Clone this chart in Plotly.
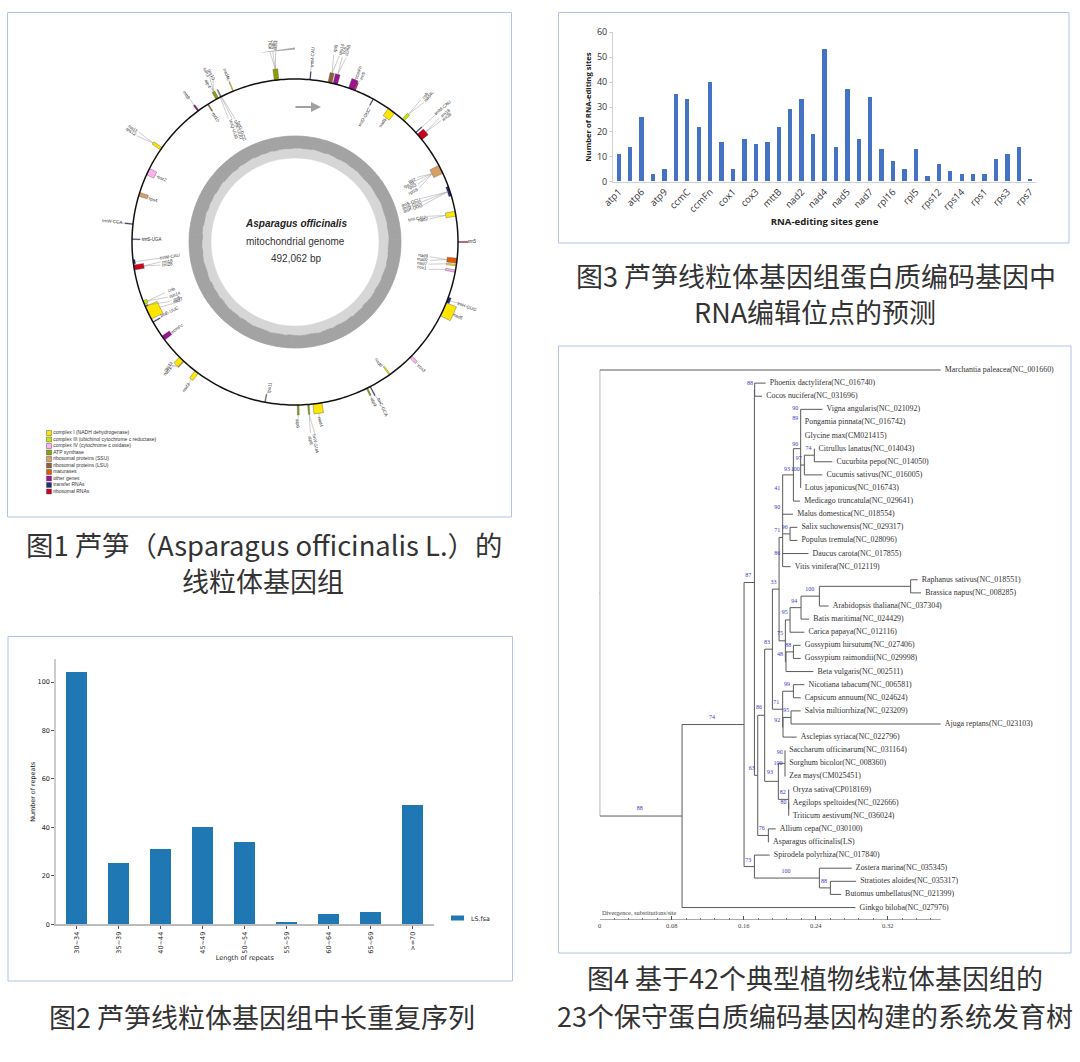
import math
import plotly.graph_objects as go

W, H = 1080, 1062

# ---------- Panel: RNA editing ----------
RNA_GENES = ["atp1","atp4","atp6","atp8","atp9","ccmB","ccmC","ccmFc","ccmFn","cob","cox1","cox2","cox3",
             "matR","mttB","nad1","nad2","nad3","nad4","nad4L","nad5","nad6","nad7","nad9","rpl16","rpl2",
             "rpl5","rpl10","rps12","rps13","rps14","rps19","rps1","rps2","rps3","rps4","rps7"]
RNA_SITES = [11,14,26,3,5,35,33,22,40,16,5,17,15,16,22,29,33,19,53,14,37,17,34,13,8,5,13,2,7,4,3,3,3,9,11,14,1]

# ---------- Panel: repeats ----------
REPEAT_BINS = ["30~34","35~39","40~44","45~49","50~54","55~59","60~64","65~69",">=70"]
REPEAT_COUNTS = [104,25,31,40,34,1,4,5,49]

# ---------- Panel: phylogeny ----------
LEAF_NAMES = ["Marchantia paleacea(NC_001660)","Phoenix dactylifera(NC_016740)","Cocos nucifera(NC_031696)",
 "Vigna angularis(NC_021092)","Pongamia pinnata(NC_016742)","Glycine max(CM021415)","Citrullus lanatus(NC_014043)",
 "Cucurbita pepo(NC_014050)","Cucumis sativus(NC_016005)","Lotus japonicus(NC_016743)","Medicago truncatula(NC_029641)",
 "Malus domestica(NC_018554)","Salix suchowensis(NC_029317)","Populus tremula(NC_028096)","Daucus carota(NC_017855)",
 "Vitis vinifera(NC_012119)","Raphanus sativus(NC_018551)","Brassica napus(NC_008285)","Arabidopsis thaliana(NC_037304)",
 "Batis maritima(NC_024429)","Carica papaya(NC_012116)","Gossypium hirsutum(NC_027406)","Gossypium raimondii(NC_029998)",
 "Beta vulgaris(NC_002511)","Nicotiana tabacum(NC_006581)","Capsicum annuum(NC_024624)","Salvia miltiorrhiza(NC_023209)",
 "Ajuga reptans(NC_023103)","Asclepias syriaca(NC_022796)","Saccharum officinarum(NC_031164)","Sorghum bicolor(NC_008360)",
 "Zea mays(CM025451)","Oryza sativa(CP018169)","Aegilops speltoides(NC_022666)","Triticum aestivum(NC_036024)",
 "Allium cepa(NC_030100)","Asparagus officinalis(LS)","Spirodela polyrhiza(NC_017840)","Zostera marina(NC_035345)",
 "Stratiotes aloides(NC_035317)","Butomus umbellatus(NC_021399)","Ginkgo biloba(NC_027976)"]
LEAF_TIPS = [.3789,.1844,.1804,.2474,.2233,.2233,.2385,.2585,.2474,.2233,.2226,.2148,.2196,.2196,.2319,.2122,.3533,.3570,
             .2544,.2326,.2274,.2233,.2233,.2374,.2274,.2233,.2233,.3789,.2189,.2059,.2059,.2059,.2100,.2100,.2100,.1956,
             .1881,.1889,.2800,.2848,.2681,.2841]
# nested (divergence, children[, row]); an integer child is a leaf index
LEGUMES = (.2233,[3,4,5,(.2274,[(.2385,[6,7]),8]),9])
ROSID_A = (.2033,[(.2152,[LEGUMES,10]),11,(.2115,[12,13]),14,15],12.77)
ROSID_B = (.2063,[(.2115,[(.2237,[(.2441,[(.3455,[16,17]),18]),19]),20]),(.2070,[(.2152,[21,22]),23])])
ASTERID = (.2033,[(.2152,[24,25]),(.2037,[(.2126,[26,27]),28])])
GRASSES = (.1985,[(.2059,[29,30,31]),(.2100,[32,(.2100,[33,34])])])
CORE = (.1756,[(.1833,[(.1919,[(.1993,[ROSID_A,ROSID_B]),ASTERID]),GRASSES]),(.1874,[35,36])])
ALISMATALES = (.1719,[37,(.2441,[38,(.2563,[39,40])])])
TREE = (0,[0,(.0915,[(.1604,[(.1719,[(.1722,[1,2]),CORE]),ALISMATALES]),41])])
ROOT_STEM = -.0219
SCALE_SPAN = [0, .3789]
SUPPORT_TEXT = ["88","90","89","90","74","97","93","100","41","90","71","96","86","87","33","100","94","95","75","83","88","48",
                "99","86","71","95","92","74","88","90","100","63","93","82","80","76","73","100","88"]
SUPPORT_DIV = [.1670,.2174,.2174,.2174,.2319,.2211,.2081,.2174,.1974,.1974,.1974,.2056,.1974,.1652,.1930,.2333,.2163,.2056,.2004,
               .1859,.2096,.2004,.2081,.1770,.1963,.2074,.1974,.1248,.0444,.2000,.1981,.1689,.1893,.2033,.2041,.1800,.1652,.2070,.2493]
SUPPORT_ROW = [1.02,2.95,3.72,5.67,6.0,6.74,7.58,7.61,9.03,10.48,12.21,11.98,14.0,15.67,16.18,16.74,17.63,18.52,20.1,
               20.76,20.99,21.73,23.99,25.73,25.37,25.98,26.72,26.51,33.46,29.21,30.03,30.38,30.71,32.24,32.98,34.99,37.38,38.22,38.98]

# ---------- Panel: genome map ----------
GENE_THETA = [353.5,5.3,12.4,14.3,20.3,21.6,28.7,36.3,41.6,47.8,49.9,63.5,71.8,80,90,96.6,98.2,100.3,110.8,114.4,134.8,144.5,
              153.8,152.5,172.1,175.3,178.9,190.6,217.1,224.1,223,233.9,240.6,244.2,246.8,248.2,263,261,271,276.3,287,295.6,
              304.9,323.6,327.7,331.5,333,337.7]
GENE_SPAN = [1.6,.3,1.4,1.6,2.2,.3,.3,2.8,1,.3,2.5,3.2,3.5,1.8,.3,1.8,.5,.8,2,5,1,.5,.5,.3,3.2,.5,.6,.3,1.4,2,.3,1.7,.3,5,.5,1.4,
             1.5,1.8,.3,.3,1.4,2.5,1,.6,.4,1,.3,.3]
GENE_DEPTH = [11,8,10,10,10,8,7,9,8,8,8,10,2.5,10,10,10,10,10,3,11,8,10,8,10,10,10,10,8,9,8,8,9,8,13,3,4,2,10,8,8,9,8,10,7,8,8,8,10]
GENE_OUTER = [1,1,1,1,1,1,0,0,1,1,1,0,0,0,1,0,0,0,1,1,1,0,1,1,1,1,1,0,1,1,1,0,0,0,0,0,0,0,0,1,0,0,1,1,0,1,1,1]
GENE_CLASS = [3,8,5,7,7,9,8,0,1,8,9,4,8,0,9,6,0,2,8,0,2,0,3,8,0,3,3,5,0,0,4,7,8,0,5,1,8,9,8,8,4,2,0,7,5,3,8,0]
CLASS_NAMES = ["complex I (NADH dehydrogenase)","complex III (ubichinol cytochrome c reductase)","complex IV (cytochrome c oxidase)",
               "ATP synthase","ribosomal proteins (SSU)","ribosomal proteins (LSU)","maturases","other genes","transfer RNAs","ribosomal RNAs"]
CLASS_COLORS = ["#FFE600","#C4E800","#FFB0F0","#8CA000","#D9A066","#8C6239","#E05A00","#9A1490","#1F2A80","#D00020"]
# read around the inner ring every 3 degrees, share of the ring in dark grey (%)
AT_SHARE = [55,54,56,55,53,55,56,54,55,57,55,54,56,55,54,56,57,55,54,55,56,54,53,55,56,55,54,56,55,54,
            55,57,56,54,55,53,55,56,54,55,57,55,54,56,58,55,56,54,57,55,56,58,55,57,56,54,57,58,56,55,
            57,59,56,58,57,55,58,59,57,56,58,60,57,59,58,56,58,60,57,59,58,60,57,58,60,59,57,58,60,58,
            59,61,58,57,60,59,57,60,58,59,57,60,58,56,59,58,57,59,56,58,57,55,58,56,57,55,58,56,55,57]
GENOME_TITLE = "Asparagus officinalis"
GENOME_SUB = ["mitochondrial genome","492,062 bp"]

LABEL_TEXT = ["atp1","rps2","sdh4","trnM-CAU","rpl5","rps14","cob","ccmB","ccmFn","rrn5","trnD-GUC","nad1","cob","nad4L","trnM-CAU","rrn18","rrn26",
 "rpl2","rps19","rps3","rpl16","trnS-GCU","trnN-GUU","trnP-UGG","trnI-CAU","nad2","rrn5","nad9","matR","nad7","cox1",
 "trnW-CCA","trnS-UGA","trnM-CAU","rrn18","rrn26","rps4","cox2","nad3","rps12","mttB","rpl10","sdh3","rps10","atp4","nad4L",
 "trnQ-UUG","trnK-UUU","trnG-GCC","rps11","atp6","atp8","trnY-GUA","nad4","atp9","trnC-GCA","nad6","cox3","nad5","trnH-GUG",
 "cob","rps14","rpl5","nad7","trnE-UUC","ccmFc","rps13","nad1","nad3"]
LABEL_GENE = [0,0,0,1,2,2,3,3,4,5,6,7,8,8,9,10,10,11,11,11,11,12,12,12,13,13,14,15,15,16,17,39,38,36,37,37,40,41,42,42,43,44,45,45,45,47,
              46,46,46,27,26,25,25,24,22,23,21,20,19,18,35,35,34,33,32,31,30,29,28]
LABEL_X = [269,272,275,312,335,341,344,348,358,363,364,383,425,429,443,445,447,412,409,412,413,411,412,413,417,423,472,423,423,422,422,
           112,152,170,167,167,153,162,133,131,187,216,207,211,208,227,234,238,241,269,298,311,316,320,373,383,379,422,458,467,
           172,175,177,178,170,177,168,167,187]
LABEL_Y = [45,45,45,57,48,49,50,51,72,76,117,123,95,97,108,113,116,180,184,187,191,202,205,208,218,220,242,256,259.5,263,268,
           222,239,257,261,264,199,179,128,132,95,117,72,75,83,74,129,130,131,388,423,440,443,422,402,407,362,368,316,306,
           290,294,298,301,312,328,366,371,387]
LABEL_ROT = [-85,-85,-85,-87,-75,-75,-75,-75,-70,-70,-60,-55,-50,-50,-40,-40,-40,-25,-25,-25,-25,-20,-20,-20,-10,-10,0,8,8,9,10,
             5,0,-8,-8,-8,17,25,35,35,55,60,65,65,65,70,72,72,72,-82,85,80,80,75,65,65,55,45,25,20,
             -20,-20,-20,-20,-25,-35,-50,-50,-55]

CAPTIONS = ["图1 芦笋（Asparagus officinalis L.）的","线粒体基因组","图2 芦笋线粒体基因组中长重复序列",
            "图3 芦笋线粒体基因组蛋白质编码基因中","RNA编辑位点的预测",
            "图4 基于42个典型植物线粒体基因组的","23个保守蛋白质编码基因构建的系统发育树"]

# ---------- helpers ----------
def px(x): return x / W
def py(y): return 1 - y / H
def dom_x(a, b): return [a / W, b / W]
def dom_y(top, bottom): return [1 - bottom / H, 1 - top / H]

CX, CY, RING = 295, 242, 163
def to_polar(x, y):
    dx, dy = x - CX, y - CY
    return math.hypot(dx, dy), math.degrees(math.atan2(dx, -dy)) % 360

fig = go.Figure()

# genome map -------------------------------------------------
ring_edge = [106 - 22 * s / 100 for s in AT_SHARE]
ring_theta = [i * 3 for i in range(len(AT_SHARE))]
fig.add_trace(go.Barpolar(theta=[45, 135, 225, 315], r=[22] * 4, base=[84] * 4, width=[90] * 4,
                          marker=dict(color="#D6D6D6", line=dict(color="#D6D6D6", width=0.5)), showlegend=False, hoverinfo="skip"))
fig.add_trace(go.Barpolar(theta=ring_theta, r=[106 - e for e in ring_edge], base=ring_edge, width=[3] * len(ring_theta),
                          marker=dict(color="#A3A3A3", line=dict(color="#A3A3A3", width=0.6)), showlegend=False, hoverinfo="skip"))
lead_r, lead_t = [], []
for txt, gi, lx, ly in zip(LABEL_TEXT, LABEL_GENE, LABEL_X, LABEL_Y):
    r0 = RING + GENE_DEPTH[gi] if GENE_OUTER[gi] else RING - GENE_DEPTH[gi]
    rl, tl = to_polar(lx, ly)
    rr = r0 + (rl - r0) * 0.72
    lead_r += [r0, rr, None]
    lead_t += [GENE_THETA[gi], tl, None]
fig.add_trace(go.Scatterpolar(r=lead_r, theta=lead_t, mode="lines", line=dict(color="#9A9A9A", width=0.5),
                              showlegend=False, hoverinfo="skip"))
fig.add_trace(go.Barpolar(theta=GENE_THETA, width=GENE_SPAN, r=GENE_DEPTH,
                          base=[RING if o else RING - d for o, d in zip(GENE_OUTER, GENE_DEPTH)],
                          marker=dict(color=[CLASS_COLORS[c] for c in GENE_CLASS], line=dict(color="#555555", width=0.4)),
                          showlegend=False, hovertext=[CLASS_NAMES[c] for c in GENE_CLASS]))
fig.add_trace(go.Scatterpolar(r=[RING] * 361, theta=list(range(361)), mode="lines", line=dict(color="#111111", width=1.5),
                              showlegend=False, hoverinfo="skip"))

# class legend
fig.add_trace(go.Scatter(x=[0] * len(CLASS_NAMES), y=list(range(len(CLASS_NAMES))), mode="markers+text", xaxis="x4", yaxis="y4",
                         text=CLASS_NAMES, textposition="middle right", textfont=dict(family="Liberation Sans", size=5, color="#333333"),
                         marker=dict(symbol="square", size=5, color=CLASS_COLORS, line=dict(color="#555555", width=0.5)),
                         cliponaxis=False, showlegend=False, hoverinfo="skip"))

# RNA editing ------------------------------------------------
fig.add_trace(go.Bar(x=RNA_GENES, y=RNA_SITES, width=0.38, marker=dict(color="#4472C4", line=dict(width=0)), showlegend=False))

# repeats ----------------------------------------------------
fig.add_trace(go.Bar(x=REPEAT_BINS, y=REPEAT_COUNTS, xaxis="x2", yaxis="y2", width=0.5, name="LS.fsa",
                     marker=dict(color="#1F77B4", line=dict(width=0)), showlegend=False))

# phylogeny --------------------------------------------------
seg_x, seg_y = [], []
def walk(node, parent):
    if isinstance(node, int):
        y = node
        seg_x.extend([parent, LEAF_TIPS[node], None]); seg_y.extend([y, y, None])
        return y
    d, kids = node[0], node[1]
    ys = [walk(k, d) for k in kids]
    y = node[2] if len(node) > 2 else (ys[0] + ys[-1]) / 2
    seg_x.extend([d, d, None]); seg_y.extend([ys[0], ys[-1], None])
    seg_x.extend([parent, d, None]); seg_y.extend([y, y, None])
    return y
walk(TREE, ROOT_STEM)
fig.add_trace(go.Scatter(x=seg_x, y=seg_y, mode="lines", xaxis="x3", yaxis="y3", line=dict(color="#5A5A5A", width=1),
                         cliponaxis=False, showlegend=False, hoverinfo="skip"))
AXIS_ROW = 41.95
fig.add_trace(go.Scatter(x=SCALE_SPAN, y=[AXIS_ROW, AXIS_ROW], mode="lines", xaxis="x3", yaxis="y3", line=dict(color="#555555", width=1),
                         cliponaxis=False, showlegend=False, hoverinfo="skip"))
LEAF_GAP = 0.0046
fig.add_trace(go.Scatter(x=[t + LEAF_GAP for t in LEAF_TIPS], y=list(range(len(LEAF_TIPS))), mode="text", xaxis="x3", yaxis="y3", text=LEAF_NAMES,
                         textposition="middle right", textfont=dict(family="Liberation Serif", size=7.9, color="#333333"),
                         cliponaxis=False, showlegend=False, hoverinfo="skip"))
fig.add_trace(go.Scatter(x=SUPPORT_DIV, y=SUPPORT_ROW, mode="text", xaxis="x3", yaxis="y3", text=SUPPORT_TEXT,
                         textposition="middle center", textfont=dict(family="Liberation Serif", size=6, color="#3A3AC0"),
                         cliponaxis=False, showlegend=False, hoverinfo="skip"))

# layout -----------------------------------------------------
FRAME = "#AEC3E6"
frames = [(7.5, 12.5, 511.5, 517), (8, 636.5, 512.5, 981), (558.5, 12.5, 1069, 243), (558.5, 346, 1071, 953)]
shapes = [dict(type="rect", xref="paper", yref="paper", x0=px(a), x1=px(c), y0=py(d), y1=py(b),
               line=dict(color=FRAME, width=1), fillcolor="rgba(0,0,0,0)") for a, b, c, d in frames]
# grey flag above the first gene block
flag = [(260, 52.5), (295, 47.5), (295, 49.5), (263, 52.5)]
shapes.append(dict(type="path", xref="paper", yref="paper", fillcolor="#AAAAAA", line=dict(width=0),
                   path="M" + " L".join(f"{px(x):.5f},{py(y):.5f}" for x, y in flag) + " Z"))
# legend swatch of the repeats panel
shapes.append(dict(type="rect", xref="paper", yref="paper", x0=px(451), x1=px(464), y0=py(920.5), y1=py(915.5),
                   fillcolor="#1F77B4", line=dict(width=0)))

ann = []
def note(text, x, y, size, family="Liberation Sans", color="#333333", rot=0, anchor="center"):
    ann.append(dict(text=text, x=px(x), y=py(y), xref="paper", yref="paper", showarrow=False, textangle=rot,
                    font=dict(family=family, size=size, color=color), xanchor=anchor, yanchor="middle"))
for t, lx, ly, rot in zip(LABEL_TEXT, LABEL_X, LABEL_Y, LABEL_ROT):
    note(t, lx, ly, 4.5, rot=rot)
note(f"<b><i>{GENOME_TITLE}</i></b>", 295.5, 223.5, 10, color="#222222")
note(GENOME_SUB[0], 295.5, 241.5, 10)
note(GENOME_SUB[1], 295.5, 258, 10)
ann.append(dict(text="", x=px(321), y=py(107), xref="paper", yref="paper", showarrow=True, ax=-27, ay=0,
                arrowcolor="#A0A0A0", arrowwidth=2, arrowhead=2, arrowsize=1))
note("LS.fsa", 469, 918, 6.3, family="DejaVu Sans", color="#222222", anchor="left")
note("Divergence, substitutions/site", 599.7, 912, 6.3, family="Liberation Serif", color="#444444", anchor="left")
cap_pos = [(263.5, 543.5), (263, 580), (262, 1016.5), (816, 275.5), (815, 311.5), (815, 977.5), (815, 1015.5)]
cap_size = [27.4, 27, 27, 27, 27, 27, 27]
for t, (cx, cy), s in zip(CAPTIONS, cap_pos, cap_size):
    note(t, cx, cy, s, family="Noto Sans CJK SC", color="#333333")

fig.update_layout(
    width=W, height=H, margin=dict(l=0, r=0, t=0, b=0, autoexpand=False), paper_bgcolor="white", plot_bgcolor="rgba(0,0,0,0)",
    autosize=False, bargap=0, shapes=shapes, annotations=ann,
    polar=dict(domain=dict(x=dom_x(CX - 220, CX + 220), y=dom_y(CY - 220, CY + 220)), bgcolor="rgba(0,0,0,0)", barmode="overlay",
               radialaxis=dict(visible=False, range=[0, 220]),
               angularaxis=dict(visible=False, rotation=90, direction="clockwise")),
    xaxis=dict(domain=dom_x(613, 1036), range=[-0.5, 36.5], type="category", categoryorder="array", categoryarray=RNA_GENES,
               tickmode="array", tickvals=RNA_GENES[::2], tickangle=-45, ticks="", showgrid=False, zeroline=False,
               showline=True, linecolor="#D0D0D0", tickfont=dict(family="Open Sans", size=9.5, color="#333333"),
               title=dict(text="<b>RNA-editing sites gene</b>", standoff=4, font=dict(family="Open Sans", size=9.6, color="#222222"))),
    yaxis=dict(domain=dom_y(32.3, 181.7), range=[0, 60], tickvals=[0, 10, 20, 30, 40, 50, 60], ticks="outside", ticklen=3, tickcolor="#D0D0D0",
               showgrid=False, zeroline=False, showline=True, linecolor="#D0D0D0", tickfont=dict(family="Open Sans", size=9, color="#333333"),
               title=dict(text="<b>Number of RNA-editing sites</b>", standoff=4, font=dict(family="Open Sans", size=7.7, color="#222222"))),
    xaxis2=dict(domain=dom_x(56, 433.5), range=[-0.5, 8.5], type="category", categoryorder="array", categoryarray=REPEAT_BINS, anchor="y2",
                tickangle=-90, ticks="outside", ticklen=3, tickcolor="#555555", showgrid=False, zeroline=False, showline=True, linecolor="#BBBBBB", linewidth=1.5,
                tickfont=dict(family="DejaVu Sans", size=6.5, color="#222222"),
                title=dict(text="Length of repeats", standoff=2, font=dict(family="DejaVu Sans", size=6.6, color="#222222"))),
    yaxis2=dict(domain=dom_y(659.3, 924.3), range=[0, 109.37], anchor="x2", tickvals=[0, 20, 40, 60, 80, 100], ticks="outside", ticklen=3, tickcolor="#555555",
                showgrid=False, zeroline=False, showline=True, linecolor="#CCCCCC", linewidth=1.5,
                tickfont=dict(family="DejaVu Sans", size=6.5, color="#222222"),
                title=dict(text="Number of repeats", standoff=1, font=dict(family="DejaVu Sans", size=6.4, color="#222222"))),
    xaxis3=dict(domain=dom_x(599.7, 599.7 + 0.3835 * 900), range=[0, 0.3835], anchor="y3", tick0=0, dtick=0.08, ticks="inside", ticklen=4, tickcolor="#555555",
                minor=dict(ticks="inside", dtick=0.016, ticklen=2, tickcolor="#777777"), showgrid=False, zeroline=False, showline=False,
                tickfont=dict(family="Liberation Serif", size=6.5, color="#444444")),
    yaxis3=dict(domain=dom_y(360, 920), range=[AXIS_ROW, -0.763], anchor="x3", visible=False),
    xaxis4=dict(domain=dom_x(49, 60), range=[0, 1], anchor="y4", visible=False),
    yaxis4=dict(domain=dom_y(433, 491.5), range=[9, 0], anchor="x4", visible=False),
)
fig.write_html("out.html", config={"displayModeBar": False},
               post_script="document.body.style.margin='0';document.body.style.overflow='hidden';")
